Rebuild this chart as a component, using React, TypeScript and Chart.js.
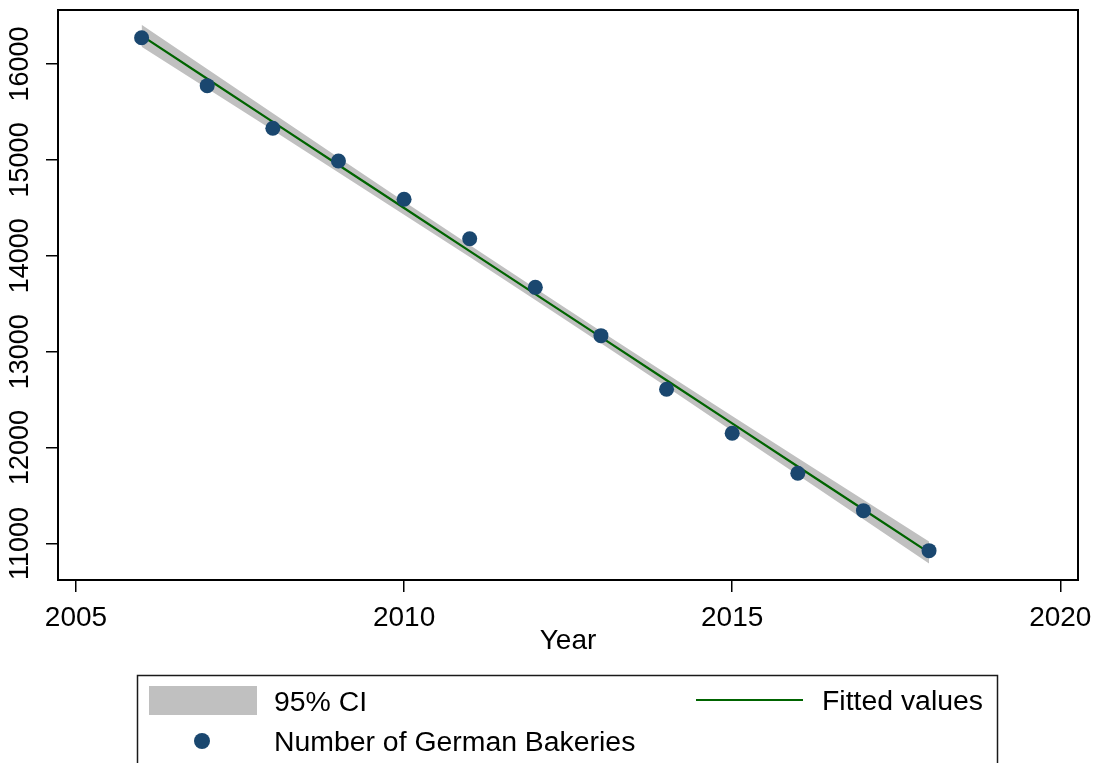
import React, { useEffect, useRef } from 'react';
import { Chart, registerables } from 'chart.js';

Chart.register(...registerables);

// ---- Data ----
const years = [2006, 2007, 2008, 2009, 2010, 2011, 2012, 2013, 2014, 2015, 2016, 2017, 2018];
const bakeries = [16274, 15774, 15330, 14989, 14589, 14178, 13671, 13167, 12608, 12149, 11732, 11342, 10925];
const fittedValues = [16295, 15846, 15397, 14947, 14498, 14049, 13600, 13151, 12702, 12252, 11803, 11354, 10905];
const ciUpper = [16410, 15947, 15486, 15025, 14567, 14112, 13661, 13214, 12771, 12330, 11892, 11455, 11020];
const ciLower = [16180, 15745, 15308, 14869, 14429, 13986, 13539, 13088, 12633, 12174, 11714, 11253, 10790];
const xTickValues = [2005, 2010, 2015, 2020];
const yTickValues = [11000, 12000, 13000, 14000, 15000, 16000];
const legendLabels = ['95% CI', 'Fitted values', 'Number of German Bakeries'];
const xAxisTitle = 'Year';

const FONT = '"Liberation Sans", Arial, Helvetica, sans-serif';
const CI_COLOR = '#c0c0c0';
const FIT_COLOR = '#006400';
const DOT_COLOR = '#1a476f';

const toPoints = (vals: number[]) => years.map((x, i) => ({ x, y: vals[i] }));

const frameAndLegend = {
  id: 'frameAndLegend',
  afterDraw(chart: any) {
    const { ctx, chartArea } = chart;
    ctx.save();
    // plot region frame
    ctx.strokeStyle = '#000';
    ctx.lineWidth = 2;
    ctx.strokeRect(chartArea.left, chartArea.top, chartArea.right - chartArea.left, chartArea.bottom - chartArea.top);

    // legend box
    ctx.lineWidth = 1.5;
    ctx.strokeStyle = '#1a1a1a';
    ctx.strokeRect(137.5, 675.5, 860, 120);

    ctx.font = `28.4px ${FONT}`;
    ctx.fillStyle = '#000';
    ctx.textBaseline = 'alphabetic';
    ctx.textAlign = 'left';

    // 95% CI
    ctx.fillStyle = CI_COLOR;
    ctx.fillRect(149, 686, 108, 29);
    ctx.fillStyle = '#000';
    ctx.fillText(legendLabels[0], 274, 711);

    // Fitted values
    ctx.strokeStyle = FIT_COLOR;
    ctx.lineWidth = 2;
    ctx.beginPath();
    ctx.moveTo(696, 700);
    ctx.lineTo(803, 700);
    ctx.stroke();
    ctx.fillText(legendLabels[1], 822, 710);

    // Number of German Bakeries
    ctx.fillStyle = DOT_COLOR;
    ctx.beginPath();
    ctx.arc(202, 741, 8, 0, Math.PI * 2);
    ctx.fill();
    ctx.fillStyle = '#000';
    ctx.fillText(legendLabels[2], 274, 751);
    ctx.restore();
  },
};

export default function App() {
  const canvasRef = useRef<HTMLCanvasElement | null>(null);

  useEffect(() => {
    if (!canvasRef.current) return;
    Chart.defaults.font.family = FONT;
    Chart.defaults.color = '#000';
    const chart = new Chart(canvasRef.current, {
      type: 'line',
      data: {
        datasets: [
          {
            label: 'ci-lower',
            data: toPoints(ciLower),
            borderWidth: 0,
            pointRadius: 0,
            fill: false,
            borderColor: 'rgba(0,0,0,0)',
            order: 4,
          },
          {
            label: legendLabels[0],
            data: toPoints(ciUpper),
            borderWidth: 0,
            pointRadius: 0,
            fill: '-1',
            backgroundColor: CI_COLOR,
            borderColor: 'rgba(0,0,0,0)',
            order: 3,
          },
          {
            label: legendLabels[1],
            data: toPoints(fittedValues),
            borderColor: FIT_COLOR,
            borderWidth: 2.2,
            pointRadius: 0,
            fill: false,
            order: 2,
          },
          {
            label: legendLabels[2],
            data: toPoints(bakeries),
            showLine: false,
            pointRadius: 7.5,
            pointBorderWidth: 0,
            pointBackgroundColor: DOT_COLOR,
            pointBorderColor: DOT_COLOR,
            fill: false,
            order: 1,
          },
        ],
      },
      options: {
        animation: false,
        responsive: false,
        devicePixelRatio: 1,
        layout: { padding: { left: 0, right: 16, top: 10, bottom: 0 } },
        plugins: {
          legend: { display: false },
          tooltip: { enabled: false },
        },
        scales: {
          x: {
            type: 'linear',
            min: 2004.726,
            max: 2020.27,
            border: { display: false },
            grid: { display: true, drawOnChartArea: false, drawTicks: true, tickLength: 12, color: '#000', lineWidth: 1.5 },
            ticks: {
              font: { size: 28 },
              color: '#000',
              padding: 9,
              maxRotation: 0,
              autoSkip: false,
              callback: (v: any) => String(v),
            },
            title: { display: true, text: xAxisTitle, font: { size: 28 }, color: '#000', padding: { top: 0, bottom: 105 } },
            afterBuildTicks: (scale: any) => {
              scale.ticks = xTickValues.map((v) => ({ value: v }));
            },
            afterFit: (scale: any) => {
              scale.height = 183;
              scale.paddingLeft = 0;
              scale.paddingRight = 0;
            },
          },
          y: {
            type: 'linear',
            min: 10619,
            max: 16563,
            border: { display: false },
            grid: { display: true, drawOnChartArea: false, drawTicks: true, tickLength: 12, color: '#000', lineWidth: 1.5 },
            ticks: {
              font: { size: 27 },
              color: '#000',
              padding: -12,
              minRotation: 90,
              maxRotation: 90,
              crossAlign: 'center',
              autoSkip: false,
              callback: (v: any) => String(v),
            },
            afterBuildTicks: (scale: any) => {
              scale.ticks = yTickValues.map((v) => ({ value: v }));
            },
            afterFit: (scale: any) => {
              scale.width = 58;
              scale.paddingTop = 0;
              scale.paddingBottom = 0;
            },
          },
        },
      },
      plugins: [frameAndLegend],
    });
    return () => chart.destroy();
  }, []);

  return (
    <div style={{ position: 'absolute', left: 0, top: 0, width: 1094, height: 763, background: '#fff', overflow: 'hidden' }}>
      <canvas ref={canvasRef} width={1094} height={763} style={{ display: 'block' }} />
    </div>
  );
}
